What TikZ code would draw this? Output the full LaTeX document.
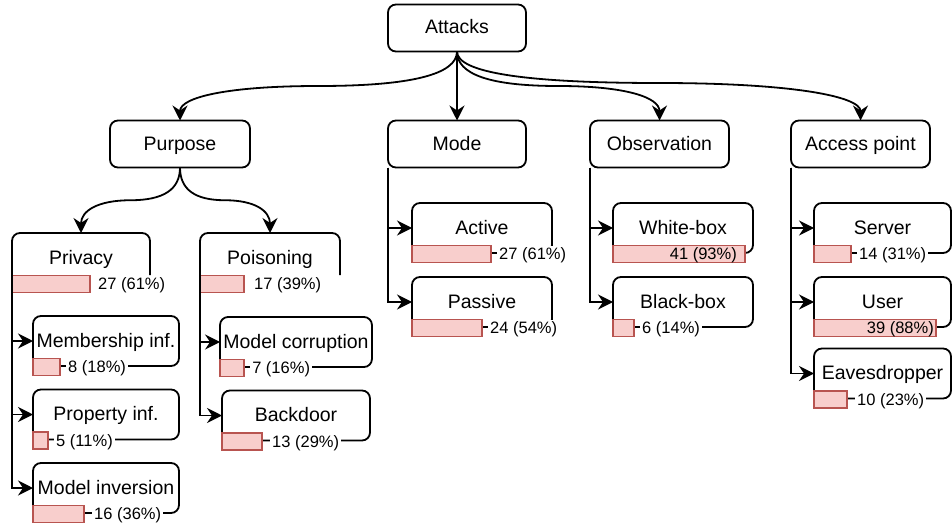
\documentclass[tikz,border=0pt]{standalone}
\usepackage{fontspec}
\setmainfont{Liberation Sans}
\usepackage{xcolor}
\usetikzlibrary{arrows.meta, positioning, calc}

\definecolor{barfill}{HTML}{F8CECC}
\definecolor{barline}{HTML}{B85450}

\begin{document}
\begin{tikzpicture}[
    x=1pt, y=-1pt,
    node distance=6pt,
    lw/.style={line width=1.8pt},
    topbox/.style={
        draw=black, lw, rounded corners=8pt, fill=white, outer sep=0pt,
        minimum width=138pt, minimum height=47pt,
        font=\fontsize{19.5pt}{23pt}\selectfont, text height=13pt, text depth=1pt
    },
    leaf/.style={topbox, minimum height=50pt},
    parent/.style={leaf, draw=none, fill=none},
    bar/.style={
        draw=barline, line width=1.2pt, fill=barfill, outer sep=0pt,
        minimum height=17pt, inner sep=0pt, anchor=west
    },
    cnt/.style={
        fill=white, inner xsep=2pt, inner ysep=0pt, minimum height=17pt,
        font=\fontsize{16.5pt}{19pt}\selectfont, text height=12pt, text depth=0.5pt
    },
    arr/.style={lw, -{Stealth[length=15pt, width=15pt, inset=5pt]}}
]
    \useasboundingbox (0,0) rectangle (952,524);

    \node[topbox] (att) at (457,28) {Attacks};
    \node[topbox, minimum width=140pt] (pur) at (180,144) {Purpose};
    \node[topbox] (mode) at (457,144) {Mode};
    \node[topbox, minimum width=139pt] (obs) at (659.5,144) {Observation};
    \node[topbox, minimum width=139pt] (acc) at (860.5,144) {Access point};

    \node[parent] (priv) at (81,258) {Privacy};
    \node[bar, minimum width=78pt] (privbar) at ([yshift=-1pt]priv.south west) {};
    \node[cnt, right=of privbar] (privn) {27 (61\%)};

    \node[parent, minimum width=140pt] (pois) at (270,258) {Poisoning};
    \node[bar, minimum width=44pt] (poisbar) at ([yshift=-1pt]pois.south west) {};
    \node[cnt, right=8pt of poisbar] (poisn) {17 (39\%)};

    \node[leaf, minimum width=146pt] (memb) at (106,341) {Membership inf.};
    \node[bar, minimum width=27pt] (membbar) at ([yshift=-1pt]memb.south west) {};
    \node[cnt, right=of membbar] (membn) {8 (18\%)};

    \node[leaf, minimum width=146pt] (prop) at (106,414.5) {Property inf.};
    \node[bar, minimum width=15pt] (propbar) at ([yshift=-1pt]prop.south west) {};
    \node[cnt, right=of propbar] (propn) {5 (11\%)};

    \node[leaf, minimum width=146pt] (minv) at (106,488) {Model inversion};
    \node[bar, minimum width=51pt] (minvbar) at ([yshift=-1pt]minv.south west) {};
    \node[cnt, right=8pt of minvbar] (minvn) {16 (36\%)};

    \node[leaf, minimum width=148pt] (mcor) at (296,342) {Model corruption};
    \node[bar, minimum width=24pt] (mcorbar) at ([yshift=-1pt]mcor.south west) {};
    \node[cnt, right=of mcorbar] (mcorn) {7 (16\%)};

    \node[leaf, minimum width=148pt] (bdoor) at (296,415.5) {Backdoor};
    \node[bar, minimum width=40pt] (bdoorbar) at ([yshift=-1pt]bdoor.south west) {};
    \node[cnt, right=8pt of bdoorbar] (bdoorn) {13 (29\%)};

    \node[leaf, minimum width=140pt] (act) at (482,228) {Active};
    \node[bar, minimum width=79pt] (actbar) at ([yshift=-1pt]act.south west) {};
    \node[cnt, right=of actbar] (actn) {27 (61\%)};

    \node[leaf, minimum width=140pt] (pass) at (482,302) {Passive};
    \node[bar, minimum width=70pt] (passbar) at ([yshift=-1pt]pass.south west) {};
    \node[cnt, right=of passbar] (passn) {24 (54\%)};

    \node[leaf, minimum width=140pt] (wbox) at (683,228) {White-box};
    \node[bar, minimum width=132pt] (wboxbar) at ([yshift=-1pt]wbox.south west) {};
    \node[cnt, fill=none, anchor=east] (wboxn) at ([xshift=-6pt]wboxbar.east) {41 (93\%)};

    \node[leaf, minimum width=140pt] (bbox) at (683,302) {Black-box};
    \node[bar, minimum width=21pt] (bboxbar) at ([yshift=-1pt]bbox.south west) {};
    \node[cnt, right=of bboxbar] (bboxn) {6 (14\%)};

    \node[leaf, minimum width=137pt] (serv) at (882.5,228) {Server};
    \node[bar, minimum width=37pt] (servbar) at ([yshift=-1pt]serv.south west) {};
    \node[cnt, right=of servbar] (servn) {14 (31\%)};

    \node[leaf, minimum width=137pt] (user) at (882.5,302) {User};
    \node[bar, minimum width=122pt] (userbar) at ([yshift=-1pt]user.south west) {};
    \node[cnt, fill=none, anchor=east] (usern) at (userbar.east) {39 (88\%)};

    \node[leaf, minimum width=137pt] (eave) at (882.5,373.5) {Eavesdropper};
    \node[bar, minimum width=33pt] (eavebar) at ([yshift=-1pt]eave.south west) {};
    \node[cnt, right=8pt of eavebar] (eaven) {10 (23\%)};

    \draw[lw, rounded corners=8pt] ([yshift=-42pt]priv.north east) |- (priv.north west) -- (priv.south west);
    \draw[lw, rounded corners=8pt] ([yshift=-42pt]pois.north east) |- (pois.north west) -- (pois.south west);

    \draw[arr] (att) -- (mode);
    \draw[arr] (att.south) .. controls +(0,23) and +(92,0) .. ($(att.south)!.5!(pur.north)$) .. controls +(-92,0) and +(0,-23) .. (pur.north);
    \draw[arr] (att.south) .. controls +(0,23) and +(-68,0) .. ($(att.south)!.5!(obs.north)$) .. controls +(68,0) and +(0,-23) .. (obs.north);
    \draw[arr] (att.south) .. controls +(0,21) and +(-134,0) .. ($(att.south)!.5!(acc.north)+(0,-3)$) .. controls +(134,0) and +(0,-24) .. (acc.north);

    \draw[arr] (pur.south) .. controls +(0,22) and +(33,0) .. ($(pur.south)!.5!(priv.north)$) .. controls +(-33,0) and +(0,-22) .. (priv.north);
    \draw[arr] (pur.south) .. controls +(0,22) and +(-30,0) .. ($(pur.south)!.5!(pois.north)$) .. controls +(30,0) and +(0,-22) .. (pois.north);

    \draw[arr] (priv.south west) |- (memb);
    \draw[arr] (priv.south west) |- (prop);
    \draw[arr] (priv.south west) |- (minv);
    \draw[arr] (pois.south west) |- (mcor);
    \draw[arr] (pois.south west) |- (bdoor);

    \draw[arr] (mode.south west) |- (act);
    \draw[arr] (mode.south west) |- (pass);
    \draw[arr] (obs.south west) |- (wbox);
    \draw[arr] (obs.south west) |- (bbox);
    \draw[arr] (acc.south west) |- (serv);
    \draw[arr] (acc.south west) |- (user);
    \draw[arr] (acc.south west) |- (eave);
\end{tikzpicture}
\end{document}
